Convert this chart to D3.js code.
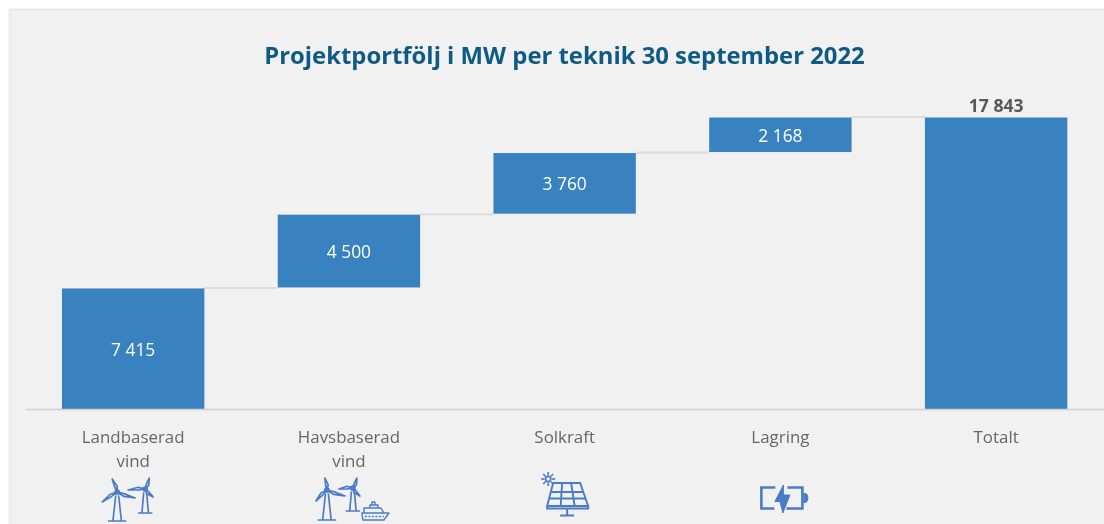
<!DOCTYPE html>
<html><head><meta charset="utf-8">
<script src="https://cdnjs.cloudflare.com/ajax/libs/d3/7.8.5/d3.min.js"></script>
<style>html,body{margin:0;padding:0;background:#fff;overflow:hidden}svg{display:block}text{font-family:"Open Sans",sans-serif}</style>
</head><body><svg id="c" width="1104" height="524"></svg>
<script>
const titleText = "Projektportfölj i MW per teknik 30 september 2022";
const categories = ["Landbaserad\nvind","Havsbaserad\nvind","Solkraft","Lagring","Totalt"];
const values = [7415,4500,3760,2168,17843];
const valueLabels = ["7 415","4 500","3 760","2 168","17 843"];
const isTotal = [false,false,false,false,true];
const icons = ["wind","windship","solar","battery",null];

const svg = d3.select("#c");
const defs = svg.append("defs");
defs.append("filter").attr("id","soft").attr("x","-5%").attr("y","-5%").attr("width","110%").attr("height","110%")
  .append("feGaussianBlur").attr("stdDeviation",0.55);
svg.append("rect").attr("x",9.5).attr("y",9.5).attr("width",1100).attr("height",520).attr("fill","#f1f1f1").attr("stroke","#ebebeb").attr("stroke-width",2);
const g = svg.append("g").attr("filter","url(#soft)");

const x = d3.scaleBand().domain(categories).range([25.3,1104]).paddingInner(0.34).paddingOuter(0.17);
const y = d3.scaleLinear().domain([0,17843]).range([410,117.5]);

let run = 0;
const rows = categories.map((c,i)=>{
  const y0 = isTotal[i] ? 0 : run;
  const y1 = isTotal[i] ? values[i] : run + values[i];
  run = y1;
  return {c,i,y0,y1,label:valueLabels[i]};
});

g.append("text").attr("x",564.5).attr("y",63.5).attr("text-anchor","middle")
 .attr("font-size",23.85).attr("font-weight",700).attr("fill","#0f5a85").text(titleText);

// connectors
g.selectAll("line.conn").data(rows.slice(0,-1)).join("line").attr("class","conn")
 .attr("x1",d=>x(d.c)+x.bandwidth()).attr("x2",d=>x(categories[d.i+1]))
 .attr("y1",d=>y(d.y1)-0.5).attr("y2",d=>y(d.y1)-0.5).attr("stroke","#dcdcdc").attr("stroke-width",2);

// bars
g.selectAll("rect.bar").data(rows).join("rect").attr("class","bar")
 .attr("x",d=>x(d.c)).attr("width",x.bandwidth())
 .attr("y",d=>y(d.y1)).attr("height",d=>y(d.y0)-y(d.y1)-(d.y0>0?1:0)).attr("fill","#3982bf");

// value labels
g.selectAll("text.val").data(rows).join("text").attr("class","val")
 .attr("x",d=>x(d.c)+x.bandwidth()/2)
 .attr("y",d=>isTotal[d.i] ? y(d.y1)-5.5 : (y(d.y0)+y(d.y1))/2+6.5)
 .attr("text-anchor","middle")
 .attr("font-size",d=>isTotal[d.i]?17.6:17.4)
 .attr("font-weight",d=>isTotal[d.i]?700:400)
 .attr("fill",d=>isTotal[d.i]?"#595959":"#ffffff")
 .text(d=>d.label);

// axis
const ax = g.append("g").attr("transform",`translate(0,${y(0)-1})`).call(d3.axisBottom(x).tickSize(0).tickFormat(""));
ax.select(".domain").attr("stroke","#cfcfcf").attr("stroke-width",1.6);
ax.selectAll(".tick").each(function(c){
  const t = d3.select(this).select("text").text(null).attr("y",0).attr("dy",null)
    .attr("font-size",16.9).attr("fill","#666666").attr("font-family",'"Open Sans",sans-serif').attr("text-anchor","middle");
  c.split("\n").forEach((s,k)=>t.append("tspan").attr("x",0).attr("y",34+k*24).text(s));
});

// icons: decorative glyphs, each drawn around its own category centre
const blue = "#4a7cc8";
function turbine(p,hx,hy,blades,baseY,baseHalf,w){
  const a = p.append("g").attr("fill","none").attr("stroke",blue).attr("stroke-width",w).attr("stroke-linejoin","round").attr("stroke-linecap","round");
  a.append("path").attr("d",`M${hx-1.5},${hy+4}L${hx-baseHalf*0.5},${baseY}M${hx+1.5},${hy+4}L${hx+baseHalf*0.5},${baseY}M${hx-baseHalf},${baseY}H${hx+baseHalf}`);
  a.append("circle").attr("cx",hx).attr("cy",hy).attr("r",2);
  blades.forEach(([dx,dy])=>{
    const ex=hx+dx, ey=hy+dy, L=Math.hypot(dx,dy), nx=-dy/L*2.1, ny=dx/L*2.1;
    a.append("path").attr("d",`M${hx},${hy}L${hx+dx*.4+nx},${hy+dy*.4+ny}L${ex},${ey}L${hx+dx*.4-nx*.25},${hy+dy*.4-ny*.25}Z`);
  });
}
function wind(p,cx){
  turbine(p,cx-16,492,[[-5,-13],[-15,10],[18,6]],521,8.5,1.7);
  turbine(p,cx+12,489,[[4,-11],[-17,1],[8,8]],513,6.5,1.7);
}
function windship(p,cx){
  turbine(p,cx-22,490,[[-2,-12],[-11,11],[18,6]],520,8.5,1.7);
  turbine(p,cx+4,488,[[4,-10],[-14,1],[7,8]],511,6.5,1.7);
  const b=p.append("g").attr("fill","none").attr("stroke",blue).attr("stroke-width",1.4).attr("stroke-linejoin","round");
  const sx=cx+26, sy=513;
  b.append("path").attr("d",`M${sx-13},${sy}H${sx+14}L${sx+9},${sy+7}H${sx-12}Z`);
  b.append("path").attr("d",`M${sx-11},${sy}V${sy-5}H${sx+6}L${sx+9},${sy}M${sx-5},${sy-5}V${sy-8}H${sx+3}V${sy-5}M${sx-3},${sy-8}V${sy-11}H${sx}V${sy-8}`);
  b.append("path").attr("d",`M${sx-10},${sy+3.5}H${sx+9}`).attr("stroke-dasharray","2 1.5");
}
function solar(p,cx){
  const a=p.append("g").attr("fill","none").attr("stroke",blue).attr("stroke-width",1.9);
  const tlx=cx-11.5,trx=cx+15.5,blx=cx-17.5,brx=cx+23.5,ty=483,by=506;
  a.append("path").attr("d",`M${tlx},${ty}H${trx}L${brx},${by}H${blx}ZM${blx},${by}V${by+2.5}H${brx}V${by}`);
  a.append("path").attr("d",`M${tlx-2.4},${ty+9}H${trx+3.2}M${tlx-4.2},${ty+15.5}H${trx+5.6}`);
  a.append("path").attr("d",`M${tlx+9},${ty}L${blx+13.5},${by}M${tlx+18},${ty}L${blx+27.5},${by}`);
  a.append("path").attr("d",`M${cx+2.5},${by+2.5}V${by+9.5}M${cx-4.5},${by+9.5}H${cx+9.5}`);
  const sx=cx-16.5, sy=479;
  a.append("circle").attr("cx",sx).attr("cy",sy).attr("r",2.6).attr("stroke-width",1.6);
  d3.range(8).forEach(k=>{const t=k*Math.PI/4;
    a.append("line").attr("x1",sx+3.6*Math.cos(t)).attr("y1",sy+3.6*Math.sin(t)).attr("x2",sx+7*Math.cos(t)).attr("y2",sy+7*Math.sin(t)).attr("stroke-width",1.6);});
}
function battery(p,cx){
  const a=p.append("g").attr("fill","none").attr("stroke",blue).attr("stroke-width",2.6);
  const l=cx-19,r=cx+22,t=487.5,b=508.5;
  a.append("path").attr("d",`M${cx-5},${t}H${l}V${b}H${cx-6}M${cx+7},${t}H${r}V${b}H${cx+6}`);
  p.append("path").attr("fill",blue).attr("d",`M${r+1},${t+5.5}h1.5a3.5,5 0 0 1 0,10h-1.5Z`);
  p.append("path").attr("fill",blue).attr("stroke",blue).attr("stroke-width",1).attr("stroke-linejoin","round")
   .attr("d",`M${cx+3},${t-2.5}L${cx-5.5},${t+14}H${cx-0.5}L${cx+2.5},${b+4.5}L${cx+9.5},${t+7.5}H${cx+3}Z`);
}
const draw = {wind, windship, solar, battery};
icons.forEach((k,i)=>{
  if(!k) return;
  draw[k](g.append("g").attr("class","icon"), x(categories[i])+x.bandwidth()/2);
});
</script></body></html>
